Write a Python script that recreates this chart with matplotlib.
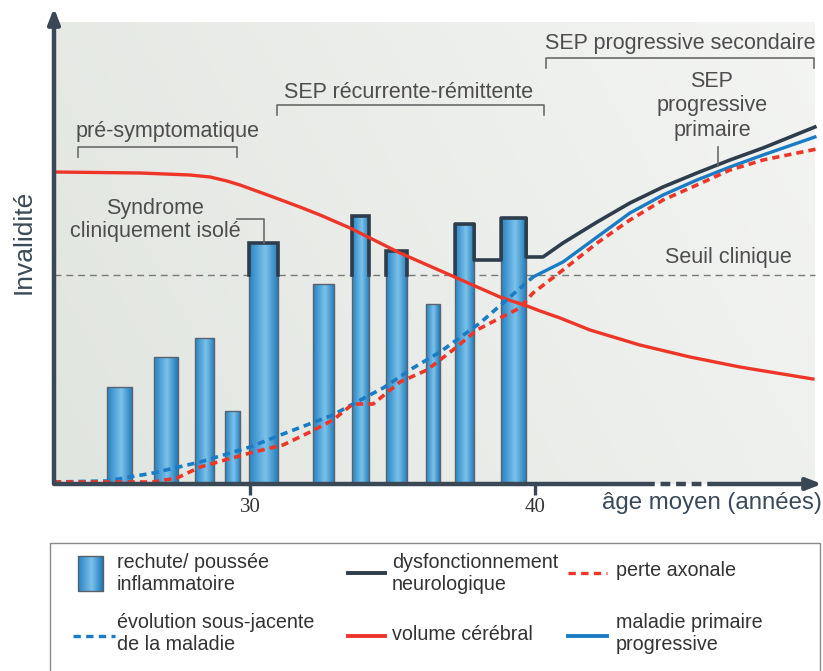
import numpy as np
import matplotlib
matplotlib.use('Agg')
import matplotlib.pyplot as plt
from matplotlib.colors import LinearSegmentedColormap
from matplotlib.patches import Rectangle
from matplotlib.lines import Line2D

plt.rcParams['font.family'] = ['Liberation Sans', 'DejaVu Sans']

# ---------------- data (age in years, invalidity in arbitrary units) ----------------
bar_age = [25.42, 27.05, 28.40, 29.39, 30.47, 32.58, 33.88, 35.14, 36.42, 37.53, 39.25]
bar_width = [0.88, 0.84, 0.67, 0.53, 1.02, 0.74, 0.60, 0.74, 0.49, 0.67, 0.88]
bar_height = [97, 127, 146, 73, 241, 200, 268, 233, 180, 260, 266]
threshold = 209

# neurological dysfunction: plateaus between/after last relapses, then progressive curve
dysf_plateau = [224, 227]
dysf_age = [40.28, 40.98, 42.18, 43.33, 44.49, 45.68, 46.84, 48.0, 49.82]
dysf_val = [227, 241, 262, 281, 297, 311, 324, 336, 357]

# underlying disease evolution (dashed blue)
evol_age = [23.12, 24.98, 26.60, 28.25, 30.00, 31.16, 32.91, 33.61, 34.67, 35.72, 36.67, 38.07, 39.12, 39.93]
evol_val = [2, 3, 11, 22, 37, 50, 69, 80, 96, 116, 132, 161, 187, 207]

# primary progressive disease (solid blue)
pp_age = [39.93, 40.98, 42.18, 43.33, 44.49, 45.68, 46.84, 48.0, 49.82]
pp_val = [207, 222, 247, 271, 289, 304, 317, 329, 347]

# axonal loss (dashed red)
axon_age = [23.12, 26.60, 27.44, 28.25, 30.00, 31.16, 32.11, 32.91, 33.61, 34.32, 35.26, 36.21,
            37.12, 37.96, 38.77, 39.47, 39.93, 40.98, 42.18, 43.33, 44.49, 45.68, 46.84, 48.0, 49.89]
axon_val = [2, 2, 6, 17, 31, 39, 52, 64, 80, 80, 102, 114,
            134, 154, 166, 176, 191, 214, 241, 264, 284, 299, 314, 324, 335]

# brain volume (solid red)
vol_age = [23.12, 26.14, 27.89, 28.60, 29.19, 29.65, 30.81, 31.75, 32.46, 33.51, 35.26, 37.02,
           38.77, 39.72, 40.18, 40.88, 41.93, 43.68, 45.44, 47.19, 49.75]
vol_val = [312, 311, 309, 307, 303, 299, 287, 277, 269, 256, 231, 209,
           187, 178, 173, 166, 154, 139, 127, 117, 105]

xticks = [30, 40]
xtick_labels = ['30', '40']

# ---------------- figure ----------------
W, H = 823, 671
fig = plt.figure(figsize=(W / 100, H / 100), dpi=100)


def fx(px):
    return px / W


def fy(py):
    return 1 - py / H


ax_left, ax_right, ax_top, ax_bottom = 54, 822, 8, 484
ax = fig.add_axes([fx(ax_left), fy(ax_bottom), fx(ax_right - ax_left), (ax_bottom - ax_top) / H])
x0 = 30 - (250 - 54) / 28.5
x1 = 30 + (822 - 250) / 28.5
xbg = 30 + (815 - 250) / 28.5
ax.set_xlim(x0, x1)
ax.set_ylim(0, 476)
for s in ax.spines.values():
    s.set_visible(False)
ax.patch.set_alpha(0)

# background gradient
gx = np.linspace(0, 1, 256)
gy = np.linspace(0, 1, 64)
GX, GY = np.meshgrid(gx, gy)
t = np.clip(0.75 * GX + 0.25 * (1 - GY), 0, 1)
c0 = np.array([0.882, 0.898, 0.875])
c1 = np.array([0.955, 0.960, 0.952])
bg = c0[None, None, :] * (1 - t[..., None]) + c1[None, None, :] * t[..., None]
ax.imshow(bg, extent=[x0, xbg, 0, 462], aspect='auto', zorder=0, origin='upper')

# bars with gradient
bar_cmap = LinearSegmentedColormap.from_list(
    'barg', [(0, '#2683c4'), (0.55, '#7cc2ea'), (1, '#1f79b9')])
bars = ax.bar(bar_age, bar_height, width=bar_width, color='#3a97d4', edgecolor='none', zorder=3)
grad = np.linspace(0, 1, 64)[None, :]
for b in bars:
    l, w, h = b.get_x(), b.get_width(), b.get_height()
    im = ax.imshow(grad, extent=[l, l + w, 0, h], cmap=bar_cmap, aspect='auto', zorder=3.1)
    im.set_clip_path(b)
ax.bar(bar_age, bar_height, width=bar_width, fill=False, edgecolor='#5a646e', lw=1.0, zorder=3.2)

# threshold
ax.axhline(threshold, xmax=(xbg - x0) / (x1 - x0), color='#7a7a7a', lw=1.0, ls=(0, (5, 3.5)), zorder=2)

# dysfunction outline over threshold
dark = '#2e3d4c'
lefts = [a - w / 2 for a, w in zip(bar_age, bar_width)]
rights = [a + w / 2 for a, w in zip(bar_age, bar_width)]
for i in (4, 6, 7):
    ax.plot([lefts[i], lefts[i], rights[i], rights[i]],
            [threshold, bar_height[i], bar_height[i], threshold],
            color=dark, lw=2.6, zorder=4, solid_joinstyle='miter')
px_ = [lefts[9], lefts[9], rights[9], rights[9], lefts[10], lefts[10], rights[10], rights[10]] + dysf_age
py_ = [threshold, bar_height[9], bar_height[9], dysf_plateau[0], dysf_plateau[0], bar_height[10],
       bar_height[10], dysf_plateau[1]] + dysf_val
ax.plot(px_, py_, color=dark, lw=2.6, zorder=4, solid_joinstyle='round')

red = '#ee3628'
blue = '#1a7cc4'
ax.plot(vol_age, vol_val, color=red, lw=2.4, zorder=5, solid_joinstyle='round')
ax.plot(evol_age, evol_val, color=blue, lw=2.6, ls=(0, (2.0, 1.4)), zorder=5)
ax.plot(pp_age, pp_val, color=blue, lw=2.4, zorder=5, solid_joinstyle='round')
ax.plot(axon_age, axon_val, color=red, lw=2.6, ls=(0, (2.0, 1.4)), zorder=5)

# axes arrows
axis_c = '#3a4856'
ax.plot([x0, 30 + (645 - 250) / 28.5], [0, 0], color=axis_c, lw=3.2, zorder=6, clip_on=False,
        solid_capstyle='butt')
ax.plot([30 + (645 - 250) / 28.5, 30 + (712 - 250) / 28.5], [0, 0], color=axis_c, lw=3.2,
        ls=(0, (2.2, 1.3)), zorder=6, clip_on=False)
ax.annotate('', xy=(x1, 0), xytext=(30 + (712 - 250) / 28.5, 0),
            arrowprops=dict(arrowstyle='-|>,head_length=0.9,head_width=0.35', color=axis_c, lw=3.2,
                            shrinkA=0, shrinkB=0), zorder=6, annotation_clip=False)
ax.annotate('', xy=(x0, 476), xytext=(x0, 0),
            arrowprops=dict(arrowstyle='-|>,head_length=0.9,head_width=0.35', color=axis_c, lw=3.2,
                            shrinkA=0, shrinkB=0), zorder=6, annotation_clip=False)

ax.set_xticks(xticks)
ax.set_xticklabels(xtick_labels, family='Liberation Serif', fontsize=15, color='#333333')
ax.tick_params(axis='x', direction='out', length=8, width=2.4, color=axis_c, pad=2)
ax.set_yticks([])

# annotations
tc = '#4d4d4d'
gc = '#6a6a6a'
fs = 15.5


def bracket(a0, a1, y, dy):
    ax.plot([a0, a0, a1, a1], [y - dy, y, y, y - dy], color=gc, lw=1.2, zorder=6)


bracket(23.96, 29.54, 337, 10)
ax.text(27.12, 352, 'pré-symptomatique', ha='center', va='center', fontsize=fs, color=tc)
bracket(30.95, 40.32, 379, 10)
ax.text(35.58, 391, 'SEP récurrente-rémittente', ha='center', va='center', fontsize=fs, color=tc)
bracket(40.39, 49.79, 426, 10)
ax.text(45.09, 440, 'SEP progressive secondaire', ha='center', va='center', fontsize=fs, color=tc)
ax.text(46.21, 378, 'SEP\nprogressive\nprimaire', ha='center', va='center', fontsize=fs,
        color=tc, linespacing=1.2)
ax.plot([46.42, 46.42], [318, 337], color=gc, lw=1.2, zorder=6)
ax.text(26.67, 264, 'Syndrome\ncliniquement isolé', ha='center', va='center', fontsize=fs,
        color=tc, linespacing=1.15)
ax.plot([29.54, 30.49, 30.49], [265, 265, 241], color=gc, lw=1.2, zorder=6)
ax.text(46.79, 227, 'Seuil clinique', ha='center', va='center', fontsize=fs, color=tc)

fig.text(fx(24), fy(242), 'Invalidité', rotation=90, ha='center', va='center', fontsize=19,
         color='#3a4a5a')
fig.text(fx(822), fy(503), 'âge moyen (années)', ha='right', va='center', fontsize=17.3,
         color='#3a4a5a')

# ---------------- legend (manual) ----------------
lax = fig.add_axes([0, 0, 1, 1])
lax.set_xlim(0, W)
lax.set_ylim(H, 0)
lax.axis('off')
lax.add_patch(Rectangle((50, 543), 770, 140, fill=False, edgecolor='#8a8a8a', lw=1.0))
lfs = 14.2
lc = '#333333'
# bar handle
lp = Rectangle((78, 556), 25, 35, edgecolor='#56606a', lw=1.0, facecolor='none', zorder=3)
lax.add_patch(lp)
lim = lax.imshow(grad, extent=[78, 103, 591, 556], cmap=bar_cmap, aspect='auto', zorder=2)
lim.set_clip_path(lp)
lax.set_xlim(0, W)
lax.set_ylim(H, 0)
lax.text(117, 573, 'rechute/ poussée\ninflammatoire', va='center', ha='left', fontsize=lfs, color=lc,
         linespacing=1.2)
lax.add_line(Line2D([348, 385], [573, 573], color=dark, lw=2.8))
lax.text(392, 573, 'dysfonctionnement\nneurologique', va='center', ha='left', fontsize=lfs, color=lc,
         linespacing=1.2)
lax.add_line(Line2D([568, 607], [573, 573], color=red, lw=2.4, ls=(0, (2.2, 1.6))))
lax.text(616, 571, 'perte axonale', va='center', ha='left', fontsize=lfs, color=lc)
lax.add_line(Line2D([73, 115], [636, 636], color=blue, lw=2.4, ls=(0, (2.2, 1.6))))
lax.text(117, 634, 'évolution sous-jacente\nde la maladie', va='center', ha='left', fontsize=lfs,
         color=lc, linespacing=1.2)
lax.add_line(Line2D([348, 385], [636, 636], color=red, lw=2.8))
lax.text(392, 634, 'volume cérébral', va='center', ha='left', fontsize=lfs, color=lc)
lax.add_line(Line2D([568, 607], [636, 636], color=blue, lw=2.8))
lax.text(616, 634, 'maladie primaire\nprogressive', va='center', ha='left', fontsize=lfs, color=lc,
         linespacing=1.2)

fig.savefig('out.png', dpi=100)
